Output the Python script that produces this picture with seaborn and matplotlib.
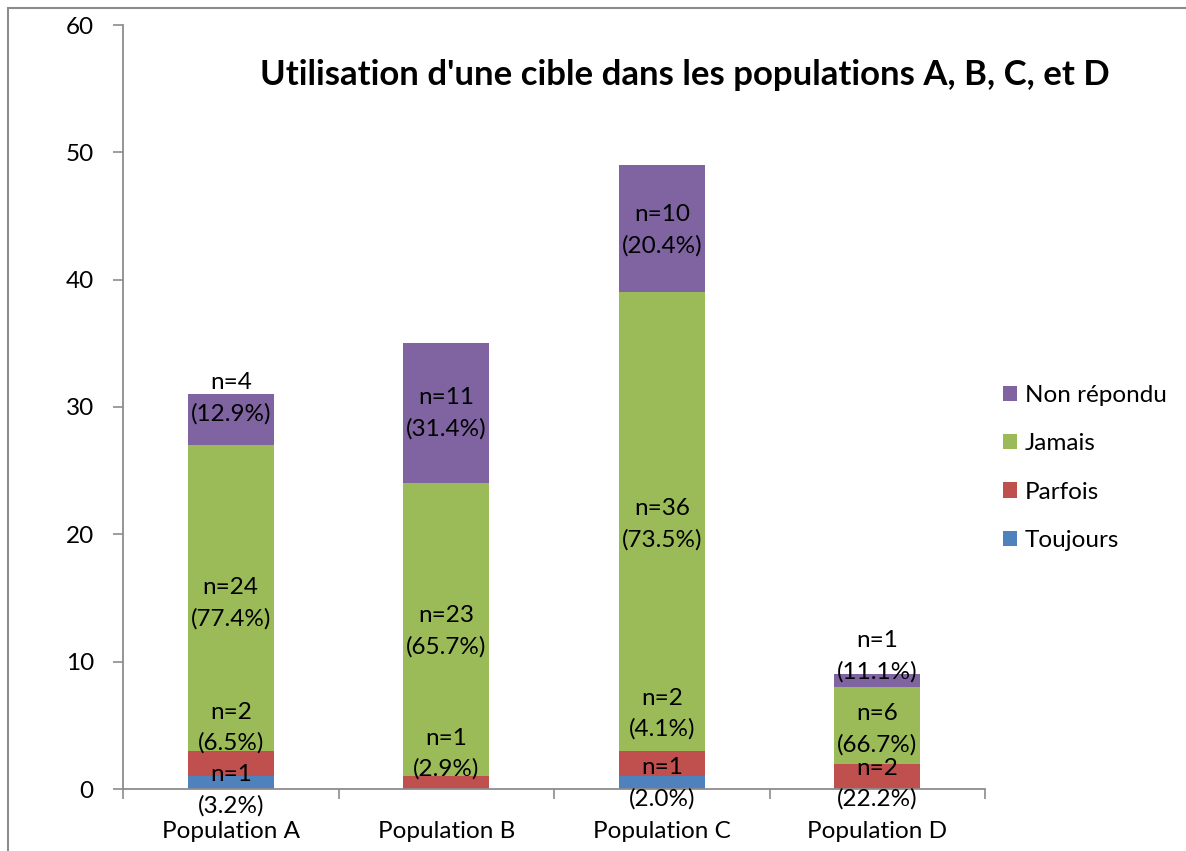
import numpy as np
import pandas as pd
import matplotlib
matplotlib.use("Agg")
import matplotlib.pyplot as plt
from matplotlib.patches import Patch, Rectangle
import seaborn as sns

# ---- data ----
populations = ["Population A", "Population B", "Population C", "Population D"]
series_names = ["Toujours", "Parfois", "Jamais", "Non répondu"]
toujours = [1, 0, 1, 0]
parfois = [2, 1, 2, 2]
jamais = [24, 23, 36, 6]
non_repondu = [4, 11, 10, 1]
# label anchor heights (data units) as placed in the reference
label_y_toujours = [-0.1, None, 0.45, None]
label_y_parfois = [4.8, 2.75, 5.9, 0.4]
label_y_jamais = [14.6, 12.4, 20.8, 4.7]
label_y_non = [30.7, 29.5, 43.9, 10.4]

title = "Utilisation d'une cible dans les populations A, B, C, et D"
colors = {"Toujours": "#4F81BD", "Parfois": "#C0504D",
          "Jamais": "#9BBB59", "Non répondu": "#8064A2"}

sns.set_theme(style="white")
plt.rcParams["font.family"] = ["Lato", "DejaVu Sans"]
FS = 17.5

values = [toujours, parfois, jamais, non_repondu]
label_ys = [label_y_toujours, label_y_parfois, label_y_jamais, label_y_non]
arr = np.array(values, dtype=float)
cum = np.cumsum(arr, axis=0)
totals = cum[-1]

fig = plt.figure(figsize=(11.86, 8.51), dpi=100)
ax = fig.add_axes([123 / 1186, 1 - 789 / 851, (985 - 123) / 1186, (789 - 25) / 851])

# draw stacked bars via cumulative overdraw (top series first)
for i in range(len(series_names) - 1, -1, -1):
    df = pd.DataFrame({"pop": populations, "val": cum[i]})
    sns.barplot(data=df, x="pop", y="val", order=populations, color=colors[series_names[i]],
                saturation=1, width=0.4, ax=ax, linewidth=0, edgecolor="none")

# data labels
for i, name in enumerate(series_names):
    for j in range(len(populations)):
        v = values[i][j]
        if v == 0:
            continue
        pct = 100.0 * v / totals[j]
        y = label_ys[i][j]
        ax.text(j, y, f"n={v}\n({pct:.1f}%)", ha="center", va="center",
                fontsize=FS, color="black", linespacing=1.55, zorder=5)

ax.set_xlim(-0.5, 3.5)
ax.set_ylim(0, 60)
ax.set_yticks(np.arange(0, 61, 10))
ax.set_xlabel("")
ax.set_ylabel("")
ax.set_xticks(range(len(populations)))
ax.set_xticklabels(populations, fontsize=FS, color="black")
ax.set_xticks(np.arange(-0.5, 4.0, 1.0), minor=True)
ax.tick_params(axis="x", which="major", length=0, pad=23)
ax.tick_params(axis="x", which="minor", length=7, width=1.2, color="#8C8C8C", direction="out", bottom=True)
ax.tick_params(axis="y", length=7, width=1.2, color="#8C8C8C", direction="out", left=True,
               labelsize=FS, labelcolor="black", pad=14)
for s in ["top", "right"]:
    ax.spines[s].set_visible(False)
for s in ["left", "bottom"]:
    ax.spines[s].set_color("#8C8C8C")
    ax.spines[s].set_linewidth(1.3)
ax.grid(False)

fig.text(685 / 1186, 1 - 85 / 851, title, ha="center", va="baseline",
         fontsize=25, fontweight="bold", color="black")

handles = [Patch(facecolor=colors[n], edgecolor="none") for n in series_names[::-1]]
leg = fig.legend(handles, series_names[::-1], loc="center left",
                 bbox_to_anchor=(981 / 1186, 1 - 468 / 851), frameon=False,
                 fontsize=FS, handlelength=0.6, handleheight=0.6,
                 handletextpad=0.3, labelspacing=1.13)
for t in leg.get_texts():
    t.set_color("black")

# outer chart border
fig.patches.append(Rectangle((8 / 1186, -0.01), 1.2, 1 - 8 / 851 + 0.01, transform=fig.transFigure,
                             fill=False, edgecolor="#8C8C8C", linewidth=1.5))

fig.savefig("out.png", dpi=100)
